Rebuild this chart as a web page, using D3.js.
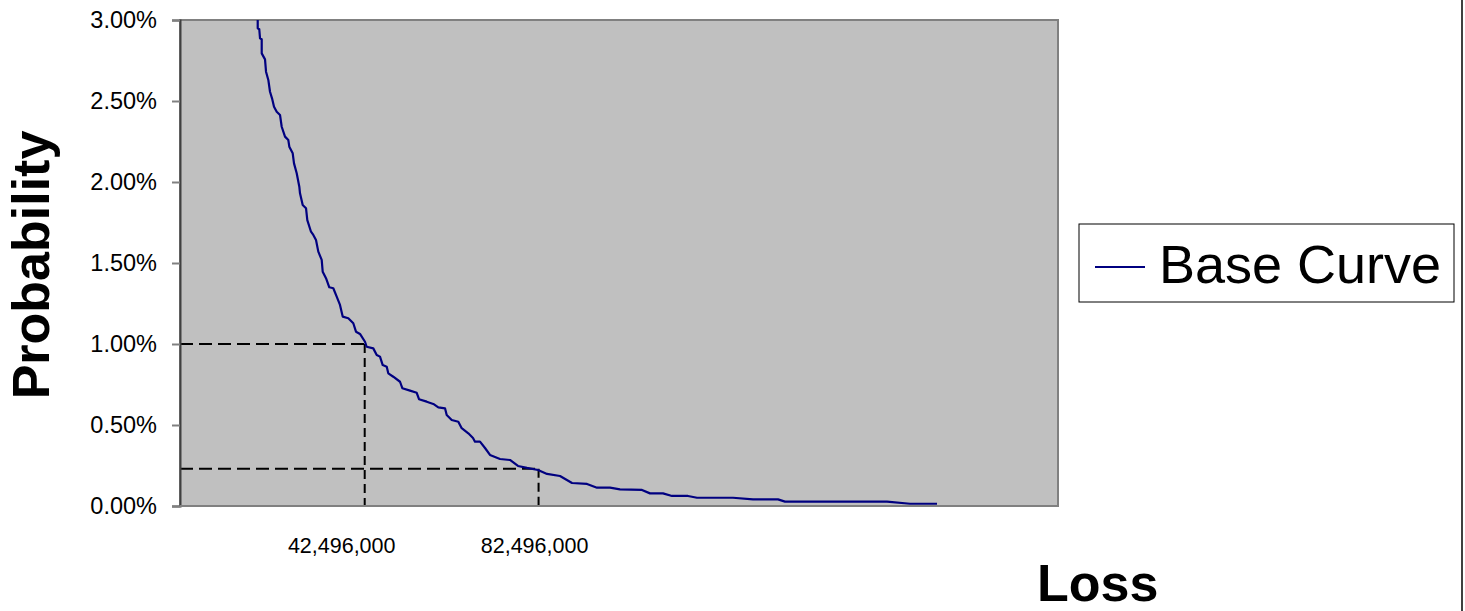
<!DOCTYPE html>
<html>
<head>
<meta charset="utf-8">
<script src="https://cdn.jsdelivr.net/npm/d3@7"></script>
<style>
    body { margin: 0; background: #fff; }
    svg { display: block; font-family: "Liberation Sans", Arial, sans-serif; }
</style>
</head>
<body>
<div id="chart"></div>
<script>
// loss in millions, exceedance probability in percent
var lossM = [17.88, 17.88, 18.24, 18.41, 18.80, 18.80, 19.56, 19.79, 20.32, 20.71,
    21.24, 21.63, 22.25, 23.01, 23.40, 24.16, 24.92, 25.15, 25.93, 26.23,
    26.85, 27.45, 27.61, 28.23, 28.99, 29.29, 30.14, 30.67, 31.29, 31.82,
    32.60, 32.83, 33.59, 34.35, 35.27, 36.05, 36.81, 37.43, 38.72, 39.87,
    40.49, 41.41, 42.56, 42.95, 44.47, 45.26, 46.01, 46.64, 47.56, 47.92,
    49.07, 50.62, 51.15, 52.92, 54.46, 54.99, 56.76, 58.28, 59.43, 60.97,
    61.36, 62.51, 64.03, 64.81, 66.33, 67.41, 67.87, 69.02, 70.17, 71.32,
    73.62, 75.92, 77.76, 79.83, 82.37, 84.44, 87.43, 90.19, 93.64, 95.94,
    98.93, 101.23, 106.29, 108.13, 111.12, 113.20, 116.88, 118.95, 127.23, 131.83,
    137.58, 139.19, 162.66, 167.95, 174.16];
var probPct = [3.000, 2.949, 2.943, 2.887, 2.881, 2.794, 2.757, 2.681, 2.630, 2.557,
    2.510, 2.465, 2.434, 2.414, 2.341, 2.280, 2.259, 2.218, 2.177, 2.115,
    2.054, 1.971, 1.930, 1.858, 1.838, 1.765, 1.693, 1.673, 1.642, 1.570,
    1.519, 1.446, 1.406, 1.350, 1.344, 1.292, 1.241, 1.169, 1.159, 1.128,
    1.076, 1.062, 1.014, 0.983, 0.973, 0.932, 0.922, 0.870, 0.860, 0.819,
    0.798, 0.767, 0.727, 0.712, 0.699, 0.659, 0.644, 0.630, 0.609, 0.603,
    0.562, 0.531, 0.520, 0.480, 0.449, 0.420, 0.397, 0.397, 0.358, 0.315,
    0.290, 0.284, 0.247, 0.235, 0.222, 0.198, 0.185, 0.142, 0.136, 0.113,
    0.113, 0.103, 0.099, 0.078, 0.078, 0.062, 0.062, 0.051, 0.051, 0.041,
    0.041, 0.027, 0.027, 0.014, 0.014];

var yTicks = [0, 0.5, 1, 1.5, 2, 2.5, 3];
// reference lines: loss (M) / probability (%)
var refLoss = [42.496, 82.496];
var refProb = [1.00, 0.23];
var refLabels = ['42,496,000', '82,496,000'];
var seriesName = 'Base Curve';

var W = 1465, H = 611;
var margins = { top: 20, right: 407, bottom: 105, left: 180 };

var svg = d3.select('#chart').append('svg')
    .attr('width', W)
    .attr('height', H);

var pw = W - margins.left - margins.right;
var ph = H - margins.top - margins.bottom;

var x = d3.scaleLinear().domain([0, 202]).range([margins.left, margins.left + pw]);
var y = d3.scaleLinear().domain([0, 3]).range([margins.top + ph, margins.top]);

// 绘图区
svg.append('rect')
    .attr('x', x(0)).attr('y', y(3))
    .attr('width', pw).attr('height', ph)
    .attr('fill', '#c0c0c0')
    .attr('stroke', '#808080')
    .attr('stroke-width', 2);

svg.append('defs').append('clipPath').attr('id', 'plot-clip')
    .append('rect')
    .attr('x', x(0)).attr('y', y(3))
    .attr('width', pw).attr('height', ph);

// reference dashed lines
refLoss.forEach(function (v, i) {
    svg.append('line')
        .attr('x1', x(0)).attr('x2', x(v))
        .attr('y1', y(refProb[i])).attr('y2', y(refProb[i]))
        .attr('stroke', '#000').attr('stroke-width', 2)
        .attr('stroke-dasharray', '13,6');
    svg.append('line')
        .attr('x1', x(v)).attr('x2', x(v))
        .attr('y1', y(refProb[i])).attr('y2', y(0))
        .attr('stroke', '#000').attr('stroke-width', 2)
        .attr('stroke-dasharray', '9,5');
});

// curve
var pts = lossM.map(function (d, i) { return [d, probPct[i]]; });
var line = d3.line()
    .x(function (d) { return x(d[0]); })
    .y(function (d) { return y(d[1]); });

svg.append('path')
    .datum(pts)
    .attr('clip-path', 'url(#plot-clip)')
    .attr('d', line)
    .attr('fill', 'none')
    .attr('stroke', '#000080')
    .attr('stroke-width', 2.2)
    .attr('stroke-linejoin', 'round');

// y axis
var yAxis = d3.axisLeft(y)
    .tickValues(yTicks)
    .tickSize(8)
    .tickPadding(15)
    .tickFormat(function (d) { return d.toFixed(2) + '%'; });

var yG = svg.append('g')
    .attr('transform', 'translate(' + x(0) + ',0)')
    .call(yAxis);
yG.select('.domain').attr('stroke', '#404040').attr('stroke-width', 2);
yG.selectAll('.tick line').attr('stroke', '#808080').attr('stroke-width', 2);
yG.selectAll('.tick text')
    .attr('fill', '#000')
    .style('font-size', '23.5px')
    .style('font-family', '"Liberation Sans", Arial, sans-serif');

// bottom axis line
svg.append('line')
    .attr('x1', x(0)).attr('x2', x(202))
    .attr('y1', y(0)).attr('y2', y(0))
    .attr('stroke', '#808080').attr('stroke-width', 2);

// reference value labels
var labelShift = [-23, -4];
refLabels.forEach(function (t, i) {
    svg.append('text')
        .attr('x', x(refLoss[i]) + labelShift[i])
        .attr('y', y(0) + 47)
        .attr('text-anchor', 'middle')
        .style('font-size', '21.5px')
        .text(t);
});

// axis titles
svg.append('text')
    .attr('x', 1037)
    .attr('y', 601)
    .style('font-size', '52px')
    .style('font-weight', 'bold')
    .text('Loss');

svg.append('text')
    .attr('transform', 'translate(49,265) rotate(-90)')
    .attr('text-anchor', 'middle')
    .style('font-size', '52px')
    .style('font-weight', 'bold')
    .text('Probability');

// legend
var lg = svg.append('g').attr('transform', 'translate(1079,224)');
lg.append('rect')
    .attr('width', 375).attr('height', 78)
    .attr('fill', '#fff')
    .attr('stroke', '#000').attr('stroke-width', 1);
lg.append('line')
    .attr('x1', 16).attr('x2', 66)
    .attr('y1', 43).attr('y2', 43)
    .attr('stroke', '#000080').attr('stroke-width', 2);
lg.append('text')
    .attr('x', 80).attr('y', 59)
    .style('font-size', '54px')
    .text(seriesName);

// outer chart border at right
svg.append('line')
    .attr('x1', 1462).attr('x2', 1462)
    .attr('y1', 0).attr('y2', H)
    .attr('stroke', '#000').attr('stroke-width', 1.5);
</script>
</body>
</html>
